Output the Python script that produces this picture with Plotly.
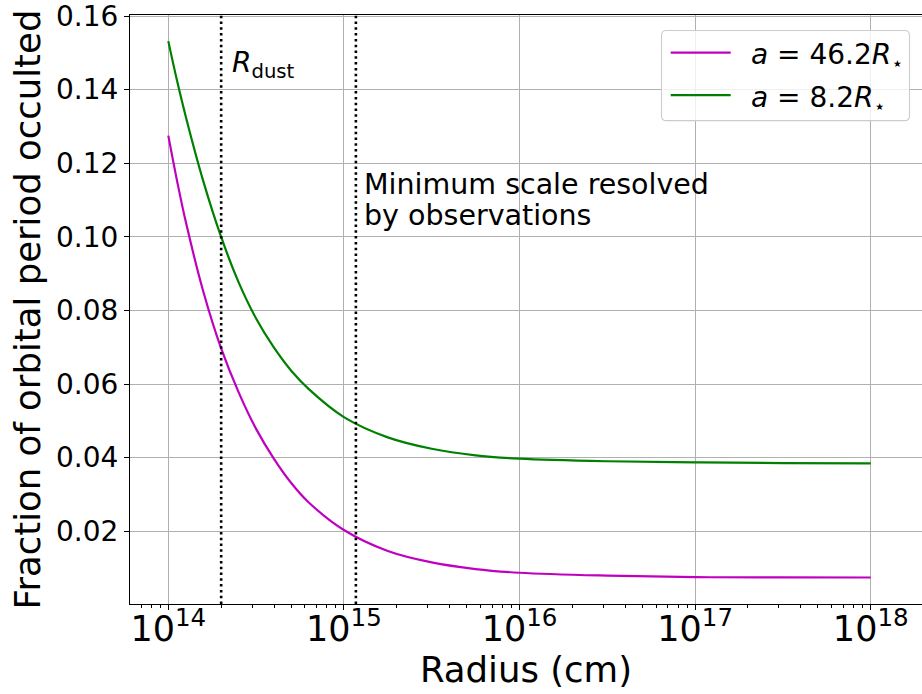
import plotly.graph_objects as go

# ---- data ----
radius_cm = [1.000e14, 1.122e14, 1.259e14, 1.585e14, 1.995e14, 2.512e14, 3.162e14,
             3.981e14, 5.012e14, 6.310e14, 1.000e15, 1.778e15, 3.162e15, 5.623e15,
             1.000e16, 3.162e16, 1.000e17, 3.162e17, 1.000e18]
frac_a46 = [0.1275, 0.1152, 0.1040, 0.0850, 0.0698, 0.0578, 0.0478,
            0.0398, 0.0331, 0.0278, 0.0203, 0.0146, 0.0115, 0.0097,
            0.0087, 0.0079, 0.0075, 0.00745, 0.0074]
frac_a8 = [0.1532, 0.1424, 0.1326, 0.1150, 0.1001, 0.0877, 0.0778,
           0.0700, 0.0636, 0.0586, 0.0510, 0.0455, 0.0424, 0.0406,
           0.0397, 0.0390, 0.0387, 0.0385, 0.0384]

r_dust = 2.0e14
r_min_resolved = 1.17e15

legend_labels = ["<i>a</i> = 46.2<i>R</i><sub>⋆</sub>", "<i>a</i> = 8.2<i>R</i><sub>⋆</sub>"]
colors = ["#bf00bf", "#008000"]

W, H = 922, 694
ML, MR, MT, MB = 130, 0, 13, 90
PW, PH = W - ML - MR, H - MT - MB
FONT = "DejaVu Sans"


def px(x):
    return (x - ML) / PW


def py(y):
    return (H - MB - y) / PH


fig = go.Figure()
fig.add_trace(go.Scatter(x=radius_cm, y=frac_a46, mode="lines", showlegend=False,
                         line=dict(color=colors[0], width=2.2, shape="spline", smoothing=1.0)))
fig.add_trace(go.Scatter(x=radius_cm, y=frac_a8, mode="lines", showlegend=False,
                         line=dict(color=colors[1], width=2.2, shape="spline", smoothing=1.0)))

# vertical dotted lines
for xv in (r_dust, r_min_resolved):
    fig.add_shape(type="line", xref="x", yref="paper", x0=xv, x1=xv, y0=0, y1=1,
                  line=dict(color="black", width=2.6, dash="2.5px,3.3px"))

# text annotations
fig.add_annotation(x=14.352, y=0.1469, xref="x", yref="y", xanchor="left", yanchor="middle",
                   text="<i>R</i><sub>dust</sub>", showarrow=False,
                   font=dict(family=FONT, size=28, color="black"))
fig.add_annotation(x=15.104, y=0.1143, xref="x", yref="y", xanchor="left", yanchor="middle",
                   text="Minimum scale resolved", showarrow=False,
                   font=dict(family=FONT, size=28.5, color="black"))
fig.add_annotation(x=15.104, y=0.1057, xref="x", yref="y", xanchor="left", yanchor="middle",
                   text="by observations", showarrow=False,
                   font=dict(family=FONT, size=28.5, color="black"))

# manual legend box (rounded)
x0, x1, y0, y1 = px(661.5), px(909.5), py(119), py(28.5)
rx, ry = 5 / PW, 5 / PH
path = (f"M {x0+rx},{y1} L {x1-rx},{y1} Q {x1},{y1} {x1},{y1-ry} "
        f"L {x1},{y0+ry} Q {x1},{y0} {x1-rx},{y0} L {x0+rx},{y0} "
        f"Q {x0},{y0} {x0},{y0+ry} L {x0},{y1-ry} Q {x0},{y1} {x0+rx},{y1} Z")
fig.add_shape(type="path", xref="paper", yref="paper", path=path,
              fillcolor="rgba(255,255,255,0.8)", line=dict(color="#cccccc", width=1.1), layer="above")
for i, (lab, col) in enumerate(zip(legend_labels, colors)):
    ly = [50.7, 93.3][i]
    fig.add_shape(type="line", xref="paper", yref="paper", x0=px(670.7), x1=px(730.7),
                  y0=py(ly), y1=py(ly), line=dict(color=col, width=2.2), layer="above")
    fig.add_annotation(x=px(749), y=py(ly + 4), xref="paper", yref="paper",
                       xanchor="left", yanchor="middle", text=lab, showarrow=False,
                       font=dict(family=FONT, size=28, color="black"))

fig.update_layout(
    width=W, height=H,
    margin=dict(l=ML, r=MR, t=MT, b=MB, pad=0),
    paper_bgcolor="white", plot_bgcolor="white",
    font=dict(family=FONT, size=28, color="black"),
    showlegend=False,
)
fig.update_xaxes(
    type="log", range=[13.7819, 18.292], dtick=1, exponentformat="power",
    showgrid=True, gridcolor="#b0b0b0", gridwidth=1.1,
    showline=True, linecolor="black", linewidth=1.1, mirror=True,
    ticks="outside", ticklen=5, tickwidth=1.1, tickcolor="black",
    tickfont=dict(size=28), zeroline=False, ticklabelstandoff=-10,
    ticklabeloverflow="allow",
    minor=dict(ticks="outside", ticklen=3, tickwidth=1, tickcolor="black", showgrid=False),
    title=dict(text="Radius (cm)", font=dict(size=35.5), standoff=4),
)
fig.update_yaxes(
    range=[0.0002, 0.1603], tickvals=[0.02, 0.04, 0.06, 0.08, 0.10, 0.12, 0.14, 0.16],
    tickformat=".2f", ticklabeloverflow="allow",
    showgrid=True, gridcolor="#b0b0b0", gridwidth=1.1,
    showline=True, linecolor="black", linewidth=1.1, mirror=False,
    ticks="outside", ticklen=5, tickwidth=1.1, tickcolor="black",
    tickfont=dict(size=28), zeroline=False,
    title=dict(text="Fraction of orbital period occulted", font=dict(size=35.5), standoff=4),
)

fig.write_html("out.html")
